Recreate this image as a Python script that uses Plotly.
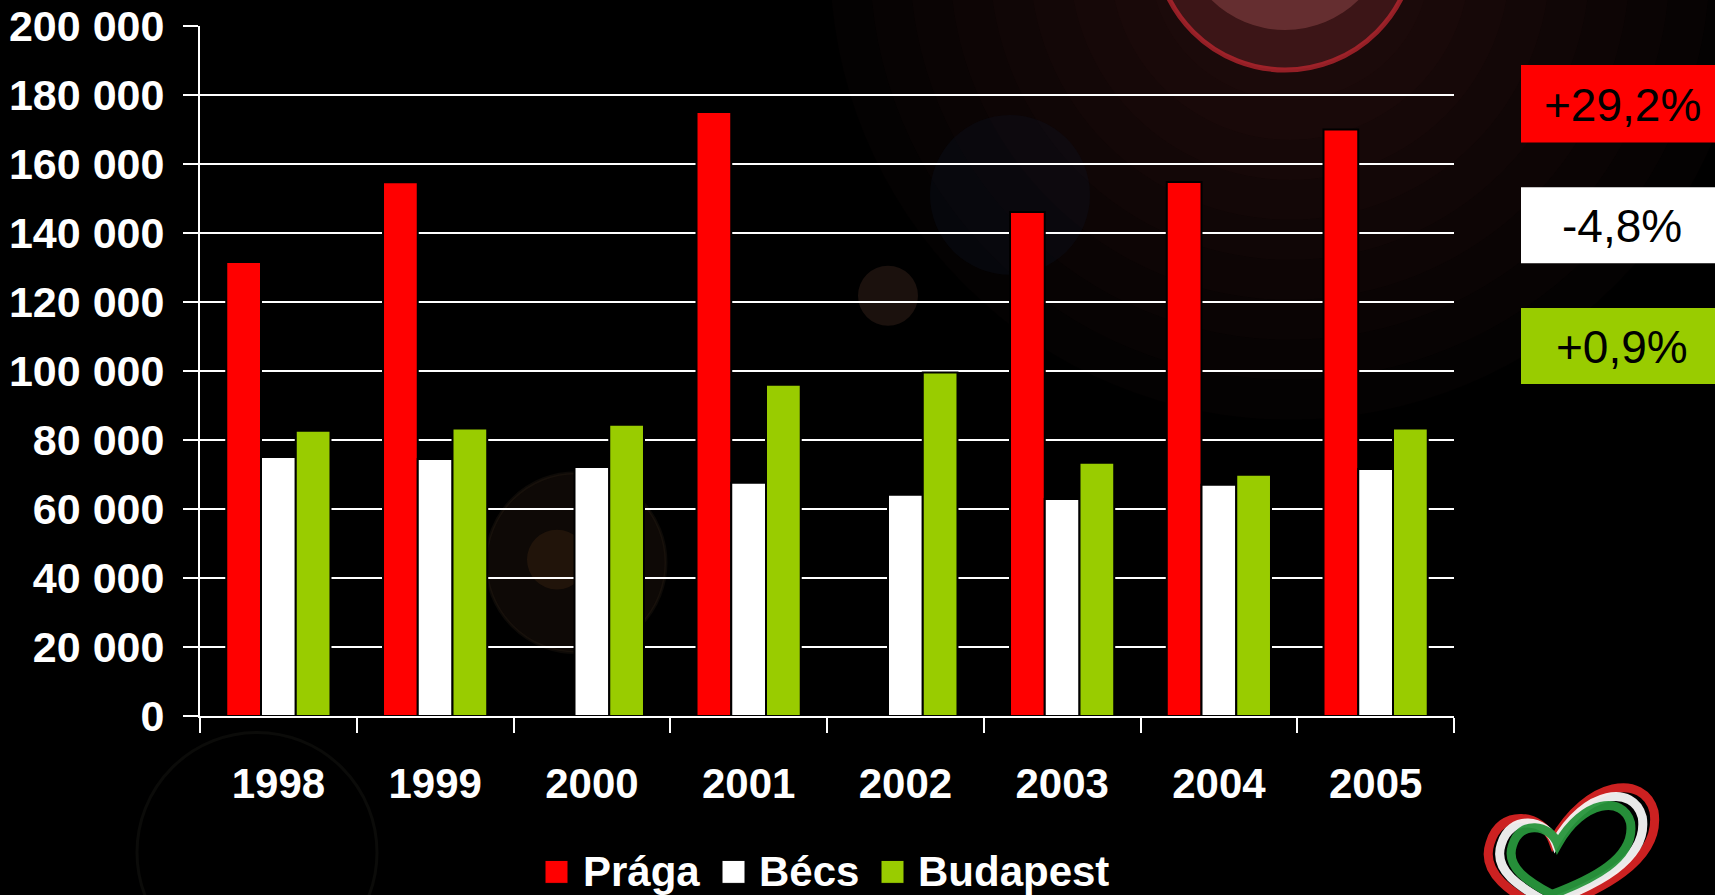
import plotly.graph_objects as go

# ---------------- data ----------------
years = ["1998", "1999", "2000", "2001", "2002", "2003", "2004", "2005"]
praga = [131600, 154700, None, 175100, None, 146100, 154800, 170000]
becs = [75100, 74500, 72200, 67600, 64100, 62900, 67000, 71600]
budapest = [82700, 83300, 84400, 96000, 99600, 73400, 69900, 83300]

series_names = ["Prága", "Bécs", "Budapest"]
series_colors = ["#FF0000", "#FFFFFF", "#99CC00"]
change_labels = ["+29,2%", "-4,8%", "+0,9%"]

y_tickvals = [0, 20000, 40000, 60000, 80000, 100000, 120000, 140000, 160000, 180000, 200000]
y_ticktext = ["0", "20 000", "40 000", "60 000", "80 000", "100 000",
              "120 000", "140 000", "160 000", "180 000", "200 000"]

# ---------------- geometry helpers ----------------
W, H = 1715, 895
ML, MR, MT, MB = 200, 261, 26, 178.5
PW = W - ML - MR
PH = H - MT - MB


def px(x):
    return (x - ML) / PW


def py(y):
    return (H - MB - y) / PH


FONT = "Liberation Sans, Arial, sans-serif"

fig = go.Figure()
for name, vals, col in zip(series_names, [praga, becs, budapest], series_colors):
    fig.add_trace(go.Bar(
        x=years, y=vals, name=name,
        marker=dict(color=col, line=dict(color="black", width=2)),
        showlegend=False,
    ))

shapes = []
annotations = []

# --- decorative background glow (top right lens flare), soft layered ---
for k in range(9):
    r = 460 - k * 40
    shapes.append(dict(type="circle", xref="paper", yref="paper", layer="below",
                       x0=px(1290 - r), x1=px(1290 + r), y0=py(-40 + r), y1=py(-40 - r),
                       fillcolor="rgba(90,40,35,0.045)", line=dict(width=0)))
# ring
rc_x, rc_y, rr = 1285, -60, 130
shapes.append(dict(type="circle", xref="paper", yref="paper", layer="below",
                   x0=px(rc_x - rr), x1=px(rc_x + rr), y0=py(rc_y + rr), y1=py(rc_y - rr),
                   fillcolor="rgba(140,50,55,0.30)",
                   line=dict(color="rgba(200,40,50,0.7)", width=5)))
shapes.append(dict(type="circle", xref="paper", yref="paper", layer="below",
                   x0=px(rc_x - 105), x1=px(rc_x + 105), y0=py(rc_y - 15 + 105), y1=py(rc_y - 15 - 105),
                   fillcolor="rgba(200,105,105,0.30)", line=dict(width=0)))
shapes.append(dict(type="circle", xref="paper", yref="paper", layer="below",
                   x0=px(rc_x - 60), x1=px(rc_x + 60), y0=py(rc_y + 60), y1=py(rc_y - 60),
                   fillcolor="rgba(110,80,80,0.8)", line=dict(width=0)))
# faint lens flares
for cx, cy, r, fill, lc in [
    (576, 563, 90, "rgba(45,30,20,0.30)", "rgba(60,45,30,0.22)"),
    (557, 560, 30, "rgba(90,55,25,0.25)", "rgba(0,0,0,0)"),
    (1010, 195, 80, "rgba(12,20,35,0.30)", "rgba(0,0,0,0)"),
    (888, 296, 30, "rgba(60,38,28,0.45)", "rgba(0,0,0,0)"),
    (257, 853, 120, "rgba(0,0,0,0)", "rgba(45,45,35,0.25)"),
]:
    shapes.append(dict(type="circle", xref="paper", yref="paper", layer="below",
                       x0=px(cx - r), x1=px(cx + r), y0=py(cy + r), y1=py(cy - r),
                       fillcolor=fill, line=dict(color=lc, width=3)))

# --- right-hand change boxes ---
box_rows = [(65, 142.7), (187.3, 263.3), (308.3, 384.3)]
for (y0, y1), col, lab in zip(box_rows, series_colors, change_labels):
    shapes.append(dict(type="rect", xref="paper", yref="paper", layer="above",
                       x0=px(1521), x1=px(1725), y0=py(y1), y1=py(y0),
                       fillcolor=col, line=dict(width=0)))
    annotations.append(dict(x=px(1622), y=py((y0 + y1) / 2 + 1), xref="paper", yref="paper",
                            text=lab, showarrow=False, xanchor="center", yanchor="middle",
                            font=dict(family=FONT, size=46, color="black")))

# --- custom legend ---
leg_sq_x = [545, 722, 881]
leg_txt_x = [581, 757, 916]
for sx, tx, col, name in zip(leg_sq_x, leg_txt_x, series_colors, series_names):
    shapes.append(dict(type="rect", xref="paper", yref="paper", layer="above",
                       x0=px(sx), x1=px(sx + 23), y0=py(884), y1=py(861),
                       fillcolor=col, line=dict(color="black", width=1)))
    annotations.append(dict(x=px(tx), y=py(872), xref="paper", yref="paper",
                            text="<b>%s</b>" % name, showarrow=False,
                            xanchor="left", yanchor="middle",
                            font=dict(family=FONT, size=42, color="white")))

# --- heart logo (ribbon in national colours) ---
heart = [(1553, 842), (1543, 814), (1500, 808), (1490, 844),
         (1480, 874), (1512, 894), (1545, 912),
         (1598, 892), (1662, 862), (1654, 812),
         (1644, 774), (1588, 780), (1553, 842)]
hcx, hcy = 1570, 852


def heart_path(scale):
    pts = [(hcx + (x - hcx) * scale, hcy + (y - hcy) * scale) for x, y in heart]
    p = "M %.5f %.5f" % (px(pts[0][0]), py(pts[0][1]))
    for i in range(1, len(pts), 3):
        a, b, c = pts[i], pts[i + 1], pts[i + 2]
        p += " C %.5f %.5f %.5f %.5f %.5f %.5f" % (px(a[0]), py(a[1]), px(b[0]), py(b[1]),
                                                   px(c[0]), py(c[1]))
    return p + " Z"


for sc, col in [(1.0, "rgba(215,35,35,0.95)"), (0.86, "rgba(245,245,245,0.95)"),
                (0.72, "rgba(40,150,60,0.95)")]:
    shapes.append(dict(type="path", xref="paper", yref="paper", layer="above",
                       path=heart_path(sc), line=dict(color=col, width=9)))

fig.update_layout(
    width=W, height=H,
    margin=dict(l=ML, r=MR, t=MT, b=MB, pad=0, autoexpand=False),
    paper_bgcolor="black",
    plot_bgcolor="rgba(0,0,0,0)",
    barmode="group",
    bargap=0.335,
    bargroupgap=0,
    shapes=shapes,
    annotations=annotations,
    showlegend=False,
    xaxis=dict(
        type="category",
        automargin=False,
        showline=True, linecolor="white", linewidth=2,
        ticks="outside", ticklen=15, tickwidth=2, tickcolor="white",
        tickson="boundaries",
        showgrid=False, zeroline=False,
        tickfont=dict(family=FONT, size=42, color="white", weight="bold"),
        ticklabelstandoff=30,
    ),
    yaxis=dict(
        automargin=False,
        range=[0, 200000],
        tickvals=y_tickvals, ticktext=y_ticktext,
        showline=True, linecolor="white", linewidth=2,
        ticks="outside", ticklen=15, tickwidth=2, tickcolor="white",
        showgrid=True, gridcolor="white", gridwidth=2,
        zeroline=False,
        tickfont=dict(family=FONT, size=43, color="white", weight="bold"),
        ticklabelstandoff=10,
    ),
)

fig.write_html("out.html", config={"displayModeBar": False},
               post_script="document.body.style.margin='0';document.body.style.overflow='hidden';")
